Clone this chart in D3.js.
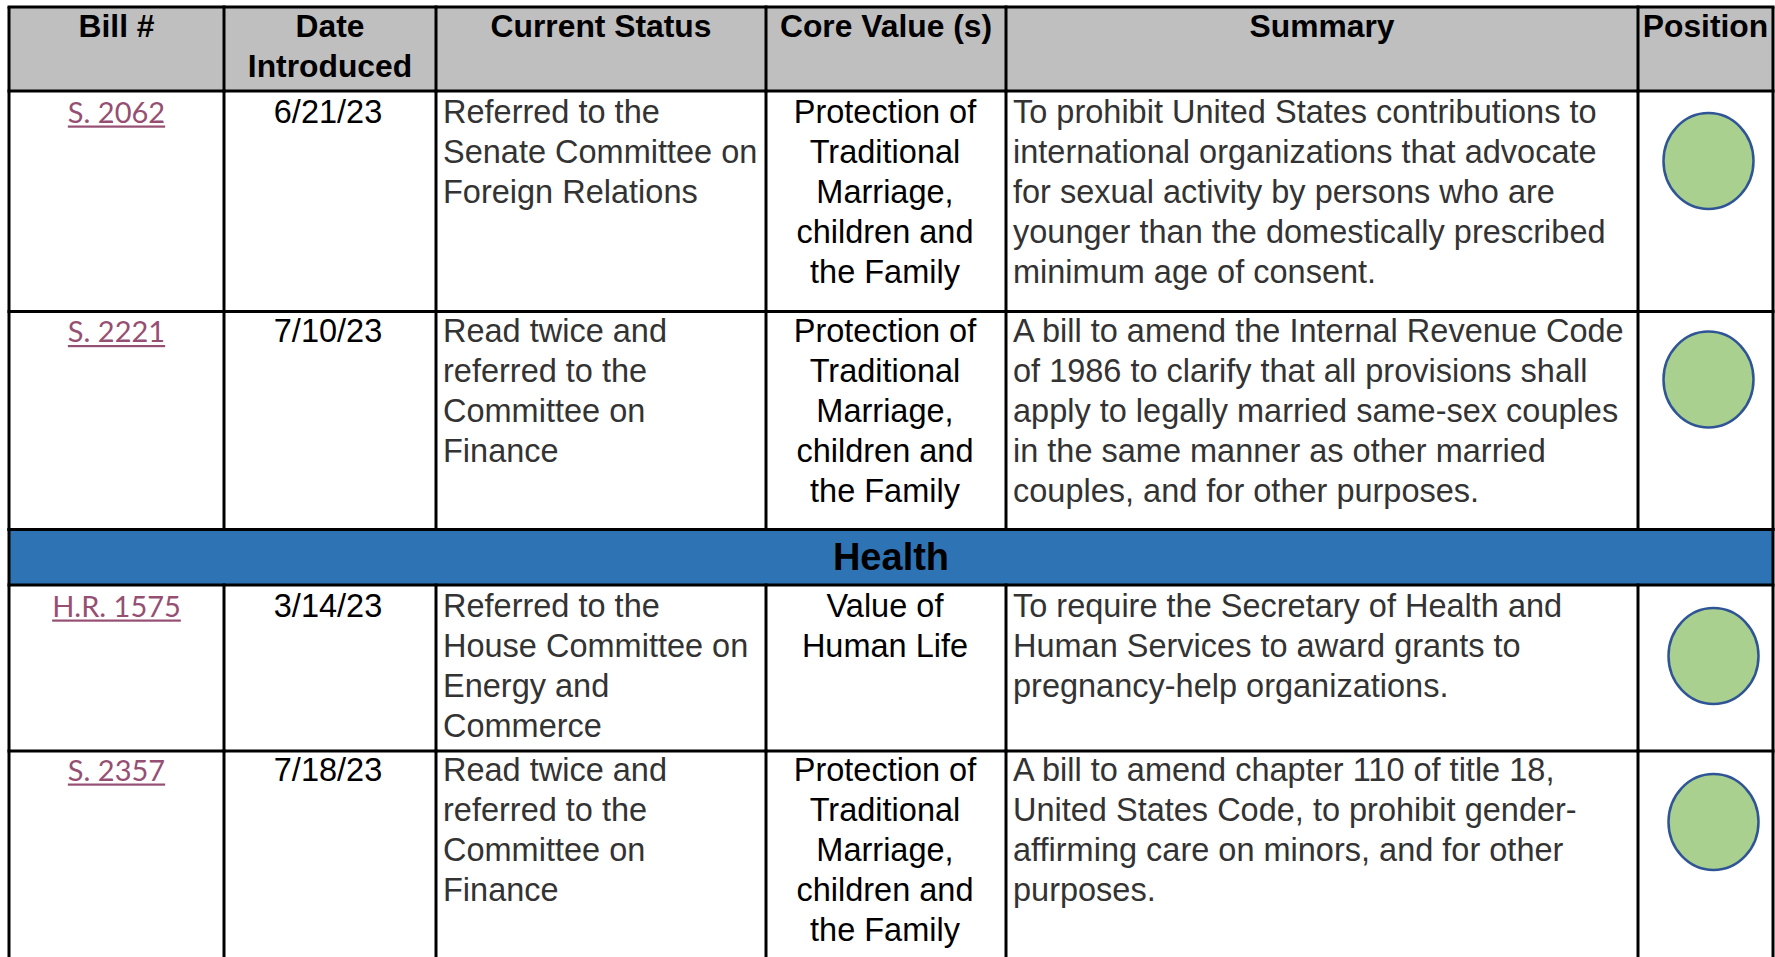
<!DOCTYPE html>
<html>
<head>
<meta charset="utf-8">
<script src="https://cdn.jsdelivr.net/npm/d3@7"></script>
<style>
  html, body { margin: 0; padding: 0; background: #ffffff; }
  svg { display: block; }
</style>
</head>
<body>
<svg id="chart" width="1775" height="957"></svg>
<script>
// ---------------- DATA ----------------
const columns = ["Bill #", "Date Introduced", "Current Status", "Core Value (s)", "Summary", "Position"];
const headerLines = [["Bill #"], ["Date", "Introduced"], ["Current Status"], ["Core Value (s)"], ["Summary"], ["Position"]];
const bills = ["S. 2062", "S. 2221", "H.R. 1575", "S. 2357"];
const dates = ["6/21/23", "7/10/23", "3/14/23", "7/18/23"];
const statuses = [
  ["Referred to the", "Senate Committee on", "Foreign Relations"],
  ["Read twice and", "referred to the", "Committee on", "Finance"],
  ["Referred to the", "House Committee on", "Energy and", "Commerce"],
  ["Read twice and", "referred to the", "Committee on", "Finance"]
];
const coreValues = [
  ["Protection of", "Traditional", "Marriage,", "children and", "the Family"],
  ["Protection of", "Traditional", "Marriage,", "children and", "the Family"],
  ["Value of", "Human Life"],
  ["Protection of", "Traditional", "Marriage,", "children and", "the Family"]
];
const summaries = [
  ["To prohibit United States contributions to", "international organizations that advocate", "for sexual activity by persons who are", "younger than the domestically prescribed", "minimum age of consent."],
  ["A bill to amend the Internal Revenue Code", "of 1986 to clarify that all provisions shall", "apply to legally married same-sex couples", "in the same manner as other married", "couples, and for other purposes."],
  ["To require the Secretary of Health and", "Human Services to award grants to", "pregnancy-help organizations."],
  ["A bill to amend chapter 110 of title 18,", "United States Code, to prohibit gender-", "affirming care on minors, and for other", "purposes."]
];
const positions = ["support", "support", "support", "support"];
const sectionTitles = ["Health"];
const sectionBeforeRow = [2];

// ---------------- LAYOUT ----------------
const colEdges = [9, 224, 436, 766, 1006, 1638, 1773];
const tableTop = 7;
const headerH = 84;
const rowHeights = [220.5, 218, 166, 220];
const textOffsets = [31.5, 30.5, 31.5, 29.5];
const markerOffsets = [70, 68, 71, 71];
const bandH = 55.5;
const lineGap = 40;
const borderW = 3;
const W = 1775, H = 957;
const fontBody = "Liberation Sans, Arial, sans-serif";
const bodySize = 32.5;

const svg = d3.select("#chart");
const xLeft = d3.scaleOrdinal().domain(columns).range(colEdges.slice(0, 6));
const xRight = d3.scaleOrdinal().domain(columns).range(colEdges.slice(1));
const xCenter = c => (xLeft(c) + xRight(c)) / 2;

// compute row tops
const rows = [];
let y = tableTop + headerH;
const bands = [];
bills.forEach((b, i) => {
  const si = sectionBeforeRow.indexOf(i);
  if (si >= 0) { bands.push({ title: sectionTitles[si], y0: y, y1: y + bandH }); y += bandH; }
  rows.push({ i, y0: y, y1: y + rowHeights[i] });
  y += rowHeights[i];
});

// header background
svg.append("rect").attr("x", colEdges[0]).attr("y", tableTop)
  .attr("width", colEdges[6] - colEdges[0]).attr("height", headerH).attr("fill", "#BFBFBF");

// bands
svg.selectAll("rect.band").data(bands).join("rect").attr("class", "band")
  .attr("x", colEdges[0]).attr("y", d => d.y0)
  .attr("width", colEdges[6] - colEdges[0]).attr("height", d => d.y1 - d.y0)
  .attr("fill", "#2E74B5");
svg.selectAll("text.band").data(bands).join("text").attr("class", "band")
  .attr("x", (colEdges[0] + colEdges[6]) / 2).attr("y", d => d.y0 + 40)
  .attr("text-anchor", "middle").attr("font-family", fontBody)
  .attr("font-weight", "bold").attr("font-size", 38).attr("fill", "#000").text(d => d.title);

// header text
columns.forEach((c, ci) => {
  headerLines[ci].forEach((t, li) => {
    svg.append("text").attr("x", xCenter(c)).attr("y", tableTop + 30 + li * lineGap)
      .attr("text-anchor", "middle").attr("font-family", fontBody).attr("font-weight", "bold")
      .attr("font-size", 31.8).attr("fill", "#000").text(t);
  });
});

// rows
rows.forEach(r => {
  const i = r.i;
  const by = r.y0 + textOffsets[i];
  // bill link
  const link = svg.append("text").attr("x", xCenter(columns[0])).attr("y", by)
    .attr("text-anchor", "middle").attr("font-family", "Lato, Carlito, sans-serif")
    .attr("font-size", 29).attr("fill", "#954F72").text(bills[i]);
  const bb = link.node().getBBox();
  svg.append("rect").attr("x", bb.x).attr("y", by + 3).attr("width", bb.width).attr("height", 2.2).attr("fill", "#954F72");
  // date
  svg.append("text").attr("x", xCenter(columns[1]) - 2).attr("y", by).attr("text-anchor", "middle")
    .attr("font-family", fontBody).attr("font-size", bodySize).attr("fill", "#000").text(dates[i]);
  // status
  statuses[i].forEach((t, li) => svg.append("text").attr("x", xLeft(columns[2]) + 7).attr("y", by + li * lineGap)
    .attr("font-family", fontBody).attr("font-size", bodySize).attr("fill", "#333").text(t));
  // core value
  coreValues[i].forEach((t, li) => svg.append("text").attr("x", xCenter(columns[3]) - 1).attr("y", by + li * lineGap)
    .attr("text-anchor", "middle").attr("font-family", fontBody).attr("font-size", bodySize).attr("fill", "#000").text(t));
  // summary
  summaries[i].forEach((t, li) => svg.append("text").attr("x", xLeft(columns[4]) + 7).attr("y", by + li * lineGap)
    .attr("font-family", fontBody).attr("font-size", bodySize).attr("fill", "#333").text(t));
});

// position markers
const posColor = d3.scaleOrdinal().domain(["support"]).range(["#A9D08E"]);
svg.selectAll("ellipse.pos").data(rows).join("ellipse").attr("class", "pos")
  .attr("cx", d => xCenter(columns[5]) + (d.i >= 2 ? 8 : 3))
  .attr("cy", d => d.y0 + markerOffsets[d.i])
  .attr("rx", 45).attr("ry", 48)
  .attr("fill", d => posColor(positions[d.i]))
  .attr("stroke", "#2F5597").attr("stroke-width", 2.5);

// grid lines
const g = svg.append("g").attr("stroke", "#000").attr("stroke-width", borderW);
const hLines = [tableTop, tableTop + headerH];
rows.forEach(r => { hLines.push(r.y1); });
bands.forEach(b => { hLines.push(b.y0, b.y1); });
g.selectAll("line.h").data(hLines.filter(v => v < H)).join("line").attr("class", "h")
  .attr("x1", colEdges[0] - 1.5).attr("x2", colEdges[6] + 1.5).attr("y1", d => d).attr("y2", d => d);
[colEdges[0], colEdges[6]].forEach(x => g.append("line").attr("x1", x).attr("x2", x).attr("y1", tableTop).attr("y2", H));
const segs = [{ y0: tableTop, y1: tableTop + headerH }].concat(rows.map(r => ({ y0: r.y0, y1: Math.min(r.y1, H) })));
colEdges.slice(1, 6).forEach(x => segs.forEach(s =>
  g.append("line").attr("x1", x).attr("x2", x).attr("y1", s.y0 - 1.5).attr("y2", s.y1 + 1.5)));
</script>
</body>
</html>
